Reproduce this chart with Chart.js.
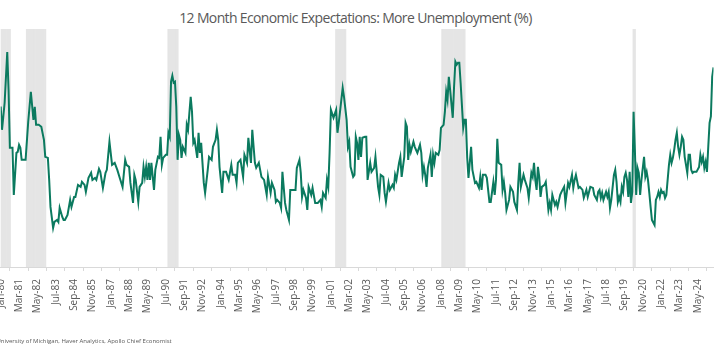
<!DOCTYPE html>
<html><head><meta charset="utf-8">
<script src="https://cdn.jsdelivr.net/npm/chart.js@4.4.1/dist/chart.umd.min.js"></script>
<style>
html,body{margin:0;padding:0;background:#fff;}
body{width:717px;height:355px;position:relative;overflow:hidden;font-family:"Open Sans",sans-serif;}
#title{position:absolute;left:-3px;width:717px;top:8px;text-align:center;font-size:14px;letter-spacing:-0.65px;color:#595959;white-space:nowrap;}
#source{position:absolute;left:-26px;top:337px;font-size:6px;color:#595959;white-space:nowrap;}
#wrap{position:absolute;left:-20px;top:0;width:737px;height:355px;}
</style></head>
<body>
<div id="title">12 Month Economic Expectations: More Unemployment (%)</div>
<div id="wrap"><canvas id="c" width="737" height="355"></canvas></div>
<div id="source">Source: University of Michigan, Haver Analytics, Apollo Chief Economist</div>
<script>
// months since Jan-1980
const monthIndex = [0,1,3,5,6,7,9,10,12,13,14,15,16,19,21,23,25,26,27,29,31,33,34,36,37,38,40,41,43,44,45,47,48,49,51,53,54,56,57,59,61,62,64,65,67,69,70,72,73,75,76,77,78,80,81,83,85,87,89,91,93,95,96,98,99,101,102,103,105,106,108,109,110,111,112,113,114,115,117,118,120,121,122,123,124,126,127,128,129,130,131,132,133,134,135,136,137,138,139,141,142,143,144,145,146,147,148,150,151,152,153,155,156,158,159,161,162,164,165,166,167,169,170,172,174,176,177,179,180,181,183,185,186,188,189,191,192,194,195,197,199,201,203,204,206,207,209,210,211,213,214,215,217,218,220,221,223,225,226,228,229,230,231,233,234,235,237,238,240,242,244,245,246,248,249,250,251,252,254,256,257,258,261,262,264,265,266,267,269,270,271,272,273,274,275,276,278,279,280,282,283,285,286,288,289,290,292,293,294,296,297,299,300,301,302,304,305,306,308,309,310,311,312,313,315,316,318,320,321,322,323,324,325,326,328,329,330,331,332,334,335,336,338,339,340,341,342,343,345,346,347,348,349,350,351,353,354,355,356,357,359,360,362,363,365,366,367,368,370,371,373,374,376,377,378,379,380,382,383,384,385,386,388,389,391,392,394,395,396,397,399,400,402,403,405,406,407,408,409,410,411,412,413,415,416,418,419,420,421,423,424,425,427,428,430,431,433,434,436,437,438,439,441,442,444,445,447,448,450,452,453,455,456,457,458,459,460,462,463,464,465,466,468,469,470,471,472,473,474,475,476,477,478,479,480,481,482,483,484,485,486,487,488,489,491,492,493,494,495,496,497,499,500,501,502,503,504,505,506,507,508,509,510,511,512,513,514,515,516,517,518,519,520,521,522,523,524,525,526,527,528,529,531,533,534,535,536,537,538,539,540,541,542,543,544];
const moreUnemployment = [58.1,51.1,59.2,74.4,63.1,45.7,45.7,31.6,44.2,44.5,46.6,45.7,42.1,42.1,53.5,62.5,54.1,58.0,52.6,52.6,52.0,48.1,43.0,42.7,36.1,28.0,21.7,23.5,24.1,23.5,27.7,25.0,24.1,24.1,25.6,30.1,28.0,31.0,31.0,34.6,34.0,35.5,34.6,32.5,36.7,38.2,36.1,36.7,36.1,39.4,38.5,36.1,33.7,38.2,39.1,47.5,40.6,41.2,39.1,36.5,34.0,42.1,40.6,40.0,35.2,29.2,37.6,36.1,29.5,34.0,35.2,40.0,37.0,40.0,36.1,41.2,36.1,41.2,33.1,39.1,43.0,42.7,49.0,40.6,42.7,43.6,43.6,50.2,49.0,65.5,67.3,65.2,65.5,58.0,42.1,49.6,48.1,42.7,46.0,44.2,52.6,51.1,56.2,61.0,56.5,47.2,48.1,42.7,50.2,44.2,47.2,35.2,32.2,39.1,43.0,42.1,46.0,48.1,51.1,48.1,40.0,32.2,38.5,38.5,36.1,40.6,37.6,37.6,35.2,41.2,42.1,37.0,43.6,41.2,48.7,41.2,51.1,41.2,39.7,41.2,37.0,36.1,31.6,37.0,32.2,35.2,33.1,29.5,30.1,29.2,27.7,38.5,29.2,27.1,24.1,33.1,33.1,33.1,39.7,42.1,38.2,31.0,33.1,30.7,27.1,34.0,31.6,33.7,29.2,29.2,30.1,28.0,32.2,30.7,36.1,34.0,44.2,57.1,54.7,57.1,50.2,53.2,63.7,61.0,54.1,46.0,47.5,40.0,37.0,37.6,49.0,47.2,42.1,49.0,43.0,48.7,49.0,49.0,36.1,41.2,38.5,39.7,43.0,34.0,31.6,37.6,37.0,32.2,29.5,35.2,33.1,34.6,33.7,37.6,36.1,41.2,43.0,37.0,43.0,53.2,52.0,42.1,46.6,44.5,47.5,46.0,44.2,46.6,44.2,37.6,40.0,37.6,34.0,39.7,43.6,37.0,43.6,41.2,44.2,43.6,45.1,51.7,52.6,56.5,62.5,60.1,67.0,63.1,54.7,64.0,71.5,70.6,71.2,71.2,65.2,51.7,54.1,54.1,43.0,36.7,46.0,39.1,35.2,35.5,33.7,37.0,33.1,37.6,37.6,36.7,29.5,29.5,35.5,31.6,36.1,48.4,41.2,40.6,33.1,35.5,32.2,27.1,30.1,34.0,32.5,29.5,27.1,35.2,41.2,34.0,37.6,36.1,33.7,30.7,38.2,37.0,41.2,36.1,33.1,40.0,37.0,31.0,34.0,34.6,35.5,27.1,29.2,27.1,31.6,28.6,29.5,28.0,31.6,32.5,34.0,29.2,35.2,34.0,37.6,33.7,36.1,37.6,33.7,34.0,33.1,30.7,33.1,31.0,34.0,33.7,31.6,30.1,32.5,33.1,30.7,32.2,30.1,32.5,31.0,32.5,27.7,30.1,37.6,39.1,35.5,29.5,31.0,29.5,34.0,32.5,37.0,38.2,36.1,31.0,38.5,29.2,32.5,56.5,45.1,31.6,39.7,38.2,31.6,36.1,43.0,37.0,38.5,36.1,32.2,28.0,24.1,22.6,30.1,31.0,32.5,31.0,33.1,32.2,32.5,30.7,31.6,36.1,40.6,43.6,41.2,42.7,45.1,48.1,50.2,46.0,43.6,46.0,49.0,48.1,43.0,40.6,38.2,43.6,43.6,39.1,38.2,38.5,38.5,40.0,43.6,41.5,43.0,39.7,41.5,38.5,46.0,53.2,55.1,67.0,69.8];
const tickLabels = ['Jan-80','Mar-81','May-82','Jul-83','Sep-84','Nov-85','Jan-87','Mar-88','May-89','Jul-90','Sep-91','Nov-92','Jan-94','Mar-95','May-96','Jul-97','Sep-98','Nov-99','Jan-01','Mar-02','May-03','Jul-04','Sep-05','Nov-06','Jan-08','Mar-09','May-10','Jul-11','Sep-12','Nov-13','Jan-15','Mar-16','May-17','Jul-18','Sep-19','Nov-20','Jan-22','Mar-23','May-24'];
const recessionStart = [0,20,128,256,337,483];
const recessionEnd = [7,34,135,263,354,484];
const lastMonth = 544;

const lineData = monthIndex.map((m, i) => ({x: m, y: moreUnemployment[i]}));
const bandData = [];
recessionStart.forEach((s, k) => { for (let m = s; m <= recessionEnd[k]; m++) bandData.push({x: m, y: 1}); });

new Chart(document.getElementById('c'), {
  data: {
    datasets: [
      {type: 'line', data: lineData, borderColor: '#0b7a5f', borderWidth: 2, pointRadius: 0, tension: 0, yAxisID: 'y', order: 1},
      {type: 'bar', data: bandData, backgroundColor: '#e5e5e5', borderWidth: 0, barPercentage: 1, categoryPercentage: 1, grouped: false, yAxisID: 'y2', order: 2}
    ]
  },
  options: {
    responsive: false, devicePixelRatio: 1, animation: false,
    layout: {padding: {left: 20.7, right: 3.5, top: 29, bottom: 0}},
    plugins: {legend: {display: false}, tooltip: {enabled: false}},
    scales: {
      x: {
        type: 'linear', min: 0, max: lastMonth, offset: false,
        grid: {drawOnChartArea: false, drawTicks: true, tickLength: 4, color: '#d9d9d9'},
        border: {display: true, color: '#d9d9d9'},
        ticks: {stepSize: 14, includeBounds: false, autoSkip: false, minRotation: 90, maxRotation: 90, padding: 8,
          font: {family: 'Open Sans', size: 10}, color: '#595959',
          callback: (v) => (v % 14 === 0 ? tickLabels[v / 14] : null)},
        afterFit: (s) => { s.height = 88; s.paddingLeft = 0; s.paddingRight = 0; }
      },
      y: {min: 10, max: 81.3, display: false},
      y2: {min: 0, max: 1, display: false}
    }
  }
});
</script>
</body></html>
